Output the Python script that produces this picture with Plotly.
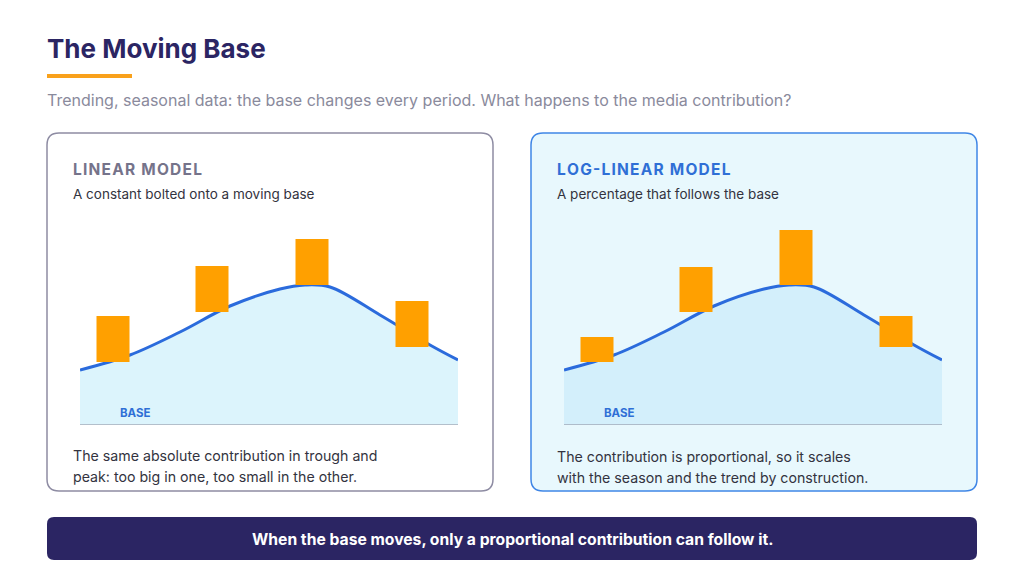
import plotly.graph_objects as go

W, H = 1008, 569
OFF = 8
# data
base_x = [0, 50, 100, 150, 200, 225, 250, 300, 350, 378]
base_y = [55, 70, 93, 119, 136, 140, 138, 110, 80, 65]
bar_x = [33, 132, 232, 332]
bar_base = [63, 113, 140, 78]
linear_contrib = [46, 46, 46, 46]
loglinear_contrib = [25, 45, 55, 31]
BAR_W = 33

fig = go.Figure()
panels = [("x", "y", linear_contrib, "#dcf4fc"), ("x2", "y2", loglinear_contrib, "#d3effb")]
for xa, ya, contrib, fillc in panels:
    fig.add_trace(go.Scatter(x=base_x, y=base_y, mode="lines",
                             line=dict(color="#2b6bdc", width=3, shape="spline", smoothing=1.0),
                             fill="tozeroy", fillcolor=fillc, xaxis=xa, yaxis=ya, hoverinfo="skip"))
    rx, ry = [], []
    for cx, b, h in zip(bar_x, bar_base, contrib):
        x0, x1 = cx - BAR_W / 2, cx + BAR_W / 2
        rx += [x0, x1, x1, x0, x0, None]
        ry += [b, b, b + h, b + h, b, None]
    fig.add_trace(go.Scatter(x=rx, y=ry, mode="lines", fill="toself", fillcolor="#ffa000",
                             line=dict(width=0, color="#ffa000"), xaxis=xa, yaxis=ya, hoverinfo="skip"))
    fig.add_trace(go.Scatter(x=[0, 378], y=[0, 0], mode="lines", line=dict(color="#8a8a9a", width=1.2),
                             xaxis=xa, yaxis=ya, hoverinfo="skip"))

def px(x): return (x - OFF) / W
def py(y): return 1 - (y - OFF) / H

ax = dict(range=[0, 378], visible=False, fixedrange=True)
ay = dict(range=[0, 200], visible=False, fixedrange=True)
fig.update_layout(
    width=W, height=H, margin=dict(l=0, r=0, t=0, b=0), showlegend=False,
    paper_bgcolor="white", plot_bgcolor="rgba(0,0,0,0)",
    font=dict(family="Inter, Noto Sans, sans-serif"),
    xaxis=dict(domain=[px(80), px(458)], anchor="y", **ax),
    yaxis=dict(domain=[py(425), py(225)], anchor="x", **ay),
    xaxis2=dict(domain=[px(564), px(942)], anchor="y2", **ax),
    yaxis2=dict(domain=[py(425), py(225)], anchor="x2", **ay),
)

def pathpx(x0, y0, x1, y1, r):
    X0, X1 = px(x0), px(x1); Y0, Y1 = py(y0), py(y1)
    rx, ry = r / W, r / H
    return (f"M{X0+rx},{Y0} L{X1-rx},{Y0} Q{X1},{Y0} {X1},{Y0-ry} L{X1},{Y1+ry} Q{X1},{Y1} {X1-rx},{Y1} "
            f"L{X0+rx},{Y1} Q{X0},{Y1} {X0},{Y1+ry} L{X0},{Y0-ry} Q{X0},{Y0} {X0+rx},{Y0} Z")

shapes = [
    dict(type="path", xref="paper", yref="paper", path=pathpx(47, 133, 493, 491, 12),
         line=dict(color="#8e8ca3", width=1.5), fillcolor="white", layer="below"),
    dict(type="path", xref="paper", yref="paper", path=pathpx(531, 133, 977, 491, 12),
         line=dict(color="#3f86e6", width=1.5), fillcolor="#e8f8fd", layer="below"),
    dict(type="path", xref="paper", yref="paper", path=pathpx(47, 517, 977, 560, 7),
         line=dict(width=0), fillcolor="#2b2563", layer="below"),
    dict(type="rect", xref="paper", yref="paper", x0=px(47), x1=px(132), y0=py(74), y1=py(78),
         line=dict(width=0), fillcolor="#f9a11b"),
]
fig.update_layout(shapes=shapes)

hs = "\u200a"
def spaced(s): return hs.join(s)

def t(x, y, text, size, color, bold=False, xanchor="left"):
    fig.add_annotation(xref="paper", yref="paper", x=px(x), y=py(y), text=f"<b>{text}</b>" if bold else text,
                       showarrow=False, xanchor=xanchor, yanchor="middle",
                       font=dict(size=size, color=color))

t(45, 48, "The Moving Base", 26, "#2b2563", True)
t(45, 100, "Trending, seasonal data: the base changes every period. What happens to the media contribution?", 16, "#8a8a9c")
t(71, 170, spaced("LINEAR MODEL"), 15.5, "#75738a", True)
t(71, 194, "A constant bolted onto a moving base", 13.5, "#333340")
t(555, 170, spaced("LOG-LINEAR MODEL"), 15.5, "#2f6fd6", True)
t(555, 194, "A percentage that follows the base", 13.5, "#333340")
t(118, 413, "BASE", 11.5, "#2f6fd6", True)
t(602, 413, "BASE", 11.5, "#2f6fd6", True)
t(71, 456, "The same absolute contribution in trough and", 14.2, "#333340")
t(71, 477, "peak: too big in one, too small in the other.", 14.2, "#333340")
t(555, 456, "The contribution is proportional, so it scales", 14.2, "#333340")
t(555, 477, "with the season and the trend by construction.", 14.2, "#333340")
t(512, 539, "When the base moves, only a proportional contribution can follow it.", 15.7, "white", True, "center")

fig.write_html("out.html")
